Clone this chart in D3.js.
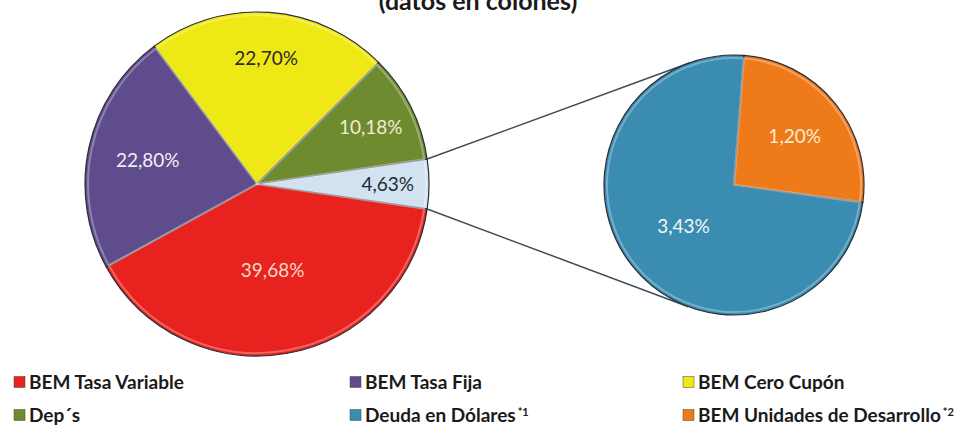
<!DOCTYPE html>
<html lang="es">
<head>
<meta charset="UTF-8">
<title>Composición de la deuda</title>
<script src="https://cdnjs.cloudflare.com/ajax/libs/d3/7.8.5/d3.min.js"></script>
<style>
  body { margin: 0; background: #fff; }
  svg { display: block; }
</style>
</head>
<body>
<svg id="chart" width="961" height="426"></svg>
<script>
// data
var categories = ["BEM Tasa Variable", "BEM Tasa Fija", "BEM Cero Cupón", "Dep´s", "Deuda en Dólares", "BEM Unidades de Desarrollo"];
var values = [39.68, 22.80, 22.70, 10.18, 3.43, 1.20];
var footnotes = ["", "", "", "", "*1", "*2"];
var colors = ["#e8221e", "#5f4c8c", "#eee914", "#6f8b2f", "#3a8cb0", "#ef7a1a"];
var otherColor = "#d3e2f1";
var titleText = "(datos en colones)";

// layout
var main = { cx: 257, cy: 184, r: 172 };
var second = { cx: 734, cy: 185, r: 130, start: 97.7 };
var mainLabelR = [0.51, 0.65, 0.73, 0.74, 0.76];
var mainLabelColor = ["#f7d9c8", "#f2eef8", "#2a2a2a", "#f3ead0", "#1e2a36"];
var secondLabelR = [0.5, 0.6];
var secondLabelColor = ["#eef6fa", "#f8ecd6"];

var fmt = function (v) { return d3.format(".2f")(v).replace(".", ",") + "%"; };
var rad = function (deg) { return deg * Math.PI / 180; };

var svg = d3.select("#chart");

svg.append("text")
    .attr("x", 478).attr("y", 10)
    .attr("text-anchor", "middle")
    .attr("font-family", "Lato, 'Open Sans', sans-serif")
    .attr("font-weight", "bold")
    .attr("font-size", "25px")
    .attr("fill", "#1a1a1a")
    .text(titleText);

// main pie: four categories + the sum of the last two
var otherValue = values[4] + values[5];
var mainData = values.slice(0, 4).concat([otherValue]);
var mainColors = colors.slice(0, 4).concat([otherColor]);
var total = d3.sum(mainData);
var a0 = Math.PI / 2 + Math.PI * otherValue / total;

var mainPie = d3.pie().sort(null).startAngle(a0).endAngle(a0 + 2 * Math.PI);
var mainArcs = mainPie(mainData);

var arc = d3.arc().innerRadius(0).outerRadius(main.r);
var bevel = d3.arc().innerRadius(0).outerRadius(main.r - 3);

var g1 = svg.append("g").attr("transform", "translate(" + main.cx + "," + main.cy + ")");

g1.selectAll("path.slice")
    .data(mainArcs)
    .enter().append("path")
    .attr("class", "slice")
    .attr("d", arc)
    .attr("fill", function (d, i) { return mainColors[i]; })
    .attr("stroke", "#2c2c34")
    .attr("stroke-width", 1.2);

g1.selectAll("path.bevel")
    .data(mainArcs)
    .enter().append("path")
    .attr("class", "bevel")
    .attr("d", bevel)
    .attr("fill", "none")
    .attr("stroke", "#fff")
    .attr("stroke-opacity", 0.3)
    .attr("stroke-width", 2);

g1.selectAll("text")
    .data(mainArcs)
    .enter().append("text")
    .attr("transform", function (d, i) {
        var lr = main.r * mainLabelR[i];
        var c = d3.arc().innerRadius(lr).outerRadius(lr).centroid(d);
        return "translate(" + c[0] + "," + c[1] + ")";
    })
    .attr("text-anchor", "middle")
    .attr("dy", "0.35em")
    .attr("font-family", "Lato, sans-serif")
    .attr("font-size", "19px")
    .attr("fill", function (d, i) { return mainLabelColor[i]; })
    .text(function (d) { return fmt(d.data); });

// secondary pie
var secondData = values.slice(4);
var sa = rad(second.start);
var secondPie = d3.pie().sort(null).startAngle(sa).endAngle(sa + 2 * Math.PI);
var secondArcs = secondPie(secondData);
var arc2 = d3.arc().innerRadius(0).outerRadius(second.r);
var bevel2 = d3.arc().innerRadius(0).outerRadius(second.r - 3);

// connector lines: from the ends of the "other" slice, tangent to the second pie
var other = mainArcs[4];
[other.startAngle, other.endAngle].forEach(function (a, k) {
    var px = main.cx + main.r * Math.sin(a);
    var py = main.cy - main.r * Math.cos(a);
    var dx = px - second.cx, dy = py - second.cy;
    var dist = Math.sqrt(dx * dx + dy * dy);
    var base = Math.atan2(dy, dx);
    var off = Math.acos(second.r / dist);
    var t = k === 0 ? base + off : base - off;
    svg.append("line")
        .attr("x1", px).attr("y1", py)
        .attr("x2", second.cx + second.r * Math.cos(t))
        .attr("y2", second.cy + second.r * Math.sin(t))
        .attr("stroke", "#3b4d5c")
        .attr("stroke-width", 1.5);
});

var g2 = svg.append("g").attr("transform", "translate(" + second.cx + "," + second.cy + ")");

g2.selectAll("path.slice")
    .data(secondArcs)
    .enter().append("path")
    .attr("class", "slice")
    .attr("d", arc2)
    .attr("fill", function (d, i) { return colors[4 + i]; })
    .attr("stroke", "#2c2c34")
    .attr("stroke-width", 1.2);

g2.selectAll("path.bevel")
    .data(secondArcs)
    .enter().append("path")
    .attr("class", "bevel")
    .attr("d", bevel2)
    .attr("fill", "none")
    .attr("stroke", "#fff")
    .attr("stroke-opacity", 0.3)
    .attr("stroke-width", 2);

g2.selectAll("text")
    .data(secondArcs)
    .enter().append("text")
    .attr("transform", function (d, i) {
        var lr = second.r * secondLabelR[i];
        var c = d3.arc().innerRadius(lr).outerRadius(lr).centroid(d);
        return "translate(" + c[0] + "," + c[1] + ")";
    })
    .attr("text-anchor", "middle")
    .attr("dy", "0.35em")
    .attr("font-family", "Lato, sans-serif")
    .attr("font-size", "19px")
    .attr("fill", function (d, i) { return secondLabelColor[i]; })
    .text(function (d) { return fmt(d.data); });

// legend: 3 columns x 2 rows
var colX = [14, 350, 683];
var rowY = [382, 415];

var legend = svg.append("g").selectAll("g")
    .data(categories)
    .enter().append("g")
    .attr("transform", function (d, i) {
        return "translate(" + colX[i % 3] + "," + rowY[Math.floor(i / 3)] + ")";
    });

legend.append("rect")
    .attr("x", 0).attr("y", -5.5)
    .attr("width", 11).attr("height", 11)
    .attr("fill", function (d, i) { return colors[i]; })
    .attr("stroke", "#444")
    .attr("stroke-width", 0.5);

var lt = legend.append("text")
    .attr("x", 15)
    .attr("dy", "0.36em")
    .attr("font-family", "Lato, sans-serif")
    .attr("font-weight", "bold")
    .attr("font-size", "19px")
    .attr("fill", "#1a1a1a")
    .text(function (d) { return d; });

lt.append("tspan")
    .attr("dx", 2)
    .attr("dy", "-0.5em")
    .attr("font-size", "11px")
    .text(function (d, i) { return footnotes[i]; });
</script>
</body>
</html>
